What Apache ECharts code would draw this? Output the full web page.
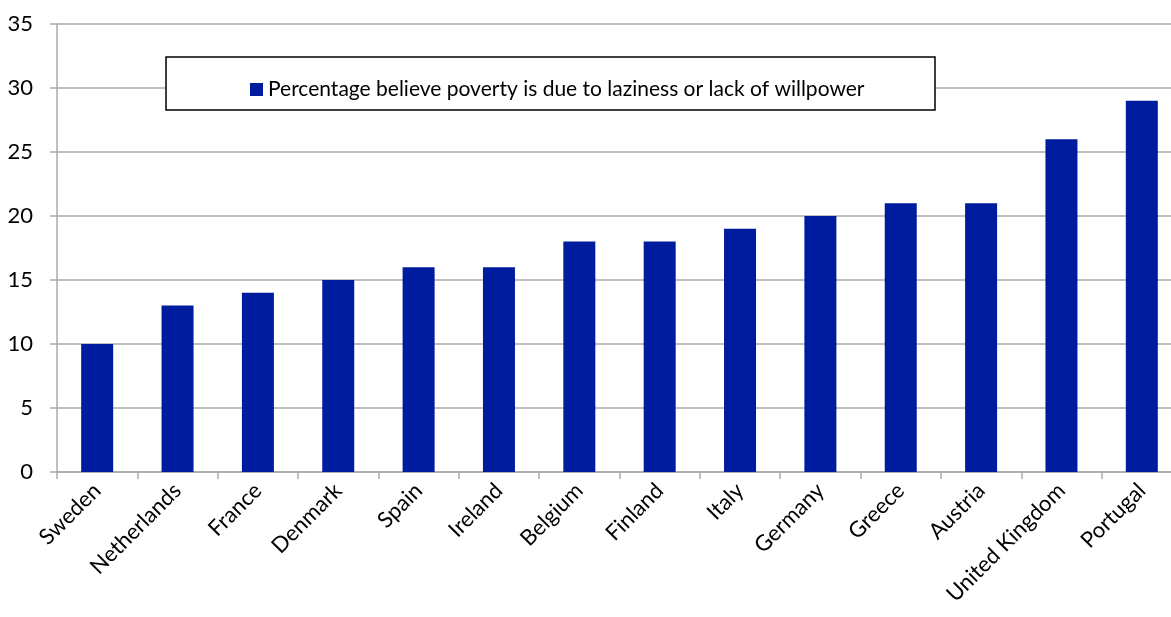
<!DOCTYPE html>
<html>
<head>
<meta charset="utf-8">
<script src="https://cdn.jsdelivr.net/npm/echarts@6/dist/echarts.min.js"></script>
<style>
  html, body { margin: 0; padding: 0; background: #fff; overflow: hidden; }
  #chart { width: 1182px; height: 617px; }
</style>
</head>
<body>
<div id="chart"></div>
<script>
var countries = ["Sweden", "Netherlands", "France", "Denmark", "Spain", "Ireland", "Belgium",
  "Finland", "Italy", "Germany", "Greece", "Austria", "United Kingdom", "Portugal"];
var laziness = [10, 13, 14, 15, 16, 16, 18, 18, 19, 20, 21, 21, 26, 29];
var seriesName = "Percentage believe poverty is due to laziness or lack of willpower";

var chart = echarts.init(document.getElementById("chart"));
chart.setOption({
  animation: false,
  textStyle: { fontFamily: "Lato" },
  grid: { left: 57, right: 0, top: 24, bottom: 145 },
  graphic: [{
    type: "rect",
    shape: { x: 166, y: 57, width: 769, height: 53 },
    style: { fill: "#fff", stroke: "#000", lineWidth: 1.5 },
    z: 5
  }],
  legend: {
    left: 245, top: 74, z: 10,
    icon: "rect", itemWidth: 13, itemHeight: 13, itemGap: 6,
    textStyle: { fontFamily: "Lato", fontSize: 21, color: "#000" },
    data: [seriesName]
  },
  xAxis: {
    type: "category",
    data: countries,
    axisLine: { lineStyle: { color: "#aaa", width: 1.5 } },
    axisTick: { show: true, length: 7, lineStyle: { color: "#aaa", width: 1.5 } },
    axisLabel: { rotate: 45, fontSize: 22, color: "#000", margin: 15, interval: 0 }
  },
  yAxis: {
    type: "value",
    min: 0, max: 35, interval: 5,
    axisLine: { show: true, lineStyle: { color: "#aaa", width: 1.5 } },
    axisTick: { show: true, length: 7, lineStyle: { color: "#aaa", width: 1.5 } },
    splitLine: { lineStyle: { color: "#aaa", width: 1.5 } },
    axisLabel: { fontSize: 22, color: "#000", margin: 24 }
  },
  series: [{
    name: seriesName,
    type: "bar",
    data: laziness,
    barWidth: 32,
    itemStyle: { color: "#001c9e" }
  }]
});
</script>
</body>
</html>
